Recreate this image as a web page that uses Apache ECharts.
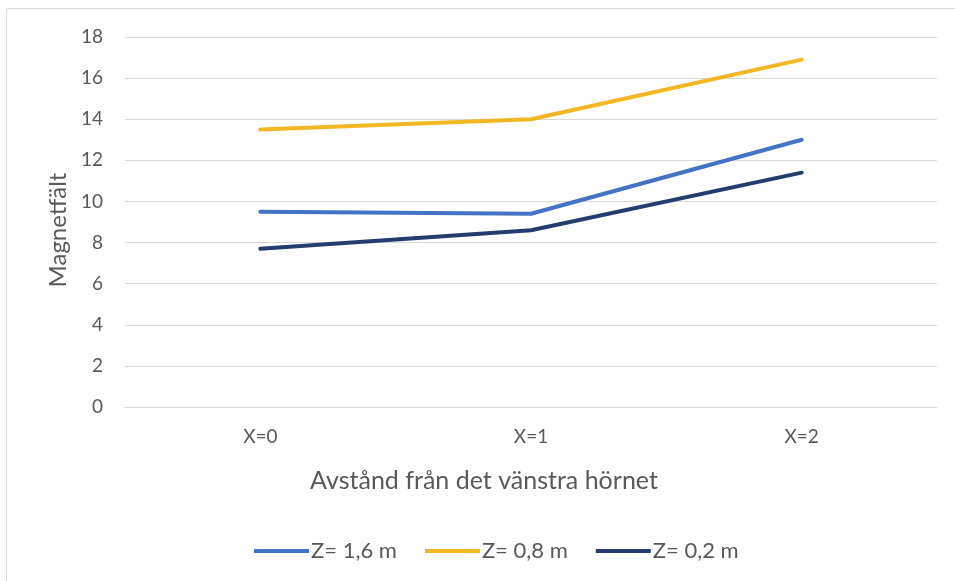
<!DOCTYPE html>
<html>
<head>
<meta charset="utf-8">
<script src="https://cdn.jsdelivr.net/npm/echarts@6/dist/echarts.min.js"></script>
<style>
  html, body { margin: 0; padding: 0; background: #ffffff; }
  #chart { width: 955px; height: 581px; }
</style>
</head>
<body>
<div id="chart"></div>
<script>
// Distance categories along the x axis
const categories = ['X=0', 'X=1', 'X=2'];

// Magnetic field readings at three heights
const seriesNames = ['Z= 1,6 m', 'Z= 0,8 m', 'Z= 0,2 m'];
const z16 = [9.5, 9.4, 13.0];
const z08 = [13.5, 14.0, 16.9];
const z02 = [7.7, 8.6, 11.4];

const colors = ['#4472C4', '#F2B722', '#233E6E'];
const textColor = '#595959';
const fontFamily = 'Lato, "Liberation Sans", sans-serif';

const chart = echarts.init(document.getElementById('chart'), null, { renderer: 'canvas' });

function lineSeries(name, data, color) {
  return {
    name: name,
    type: 'line',
    data: data,
    symbol: 'none',
    lineStyle: { width: 4, color: color, cap: 'round' },
    itemStyle: { color: color },
    emphasis: { disabled: true }
  };
}

chart.setOption({
  animation: false,
  backgroundColor: '#ffffff',
  textStyle: { fontFamily: fontFamily, color: textColor },
  graphic: [{
    type: 'rect',
    shape: { x: 6.5, y: 8.5, width: 1000, height: 1000 },
    style: { fill: 'none', stroke: '#d9d9d9', lineWidth: 1 },
    silent: true
  }],
  grid: { left: 125, right: 18, top: 37, bottom: 174, containLabel: false },
  legend: {
    data: seriesNames,
    left: 249,
    top: 535,
    itemWidth: 55,
    itemHeight: 4,
    itemGap: 28,
    icon: 'rect',
    textStyle: { fontSize: 22, color: textColor, fontFamily: fontFamily, padding: [0, 0, 0, -3] }
  },
  xAxis: {
    type: 'category',
    data: categories,
    boundaryGap: true,
    axisLine: { show: true, lineStyle: { color: '#d9d9d9', width: 1 } },
    axisTick: { show: false },
    axisLabel: { color: textColor, fontSize: 19, margin: 20, fontFamily: fontFamily },
    name: 'Avstånd från det vänstra hörnet',
    nameLocation: 'middle',
    nameGap: 61,
    nameTextStyle: { fontSize: 25, color: textColor, fontFamily: fontFamily, padding: [0, 94, 0, 0] }
  },
  yAxis: {
    type: 'value',
    min: 0,
    max: 18,
    interval: 2,
    axisLine: { show: false },
    axisTick: { show: false },
    splitLine: { lineStyle: { color: '#d9d9d9', width: 1 } },
    axisLabel: { color: textColor, fontSize: 19, margin: 22, fontFamily: fontFamily },
    name: 'Magnetfält',
    nameLocation: 'middle',
    nameGap: 52,
    nameRotate: 90,
    nameTextStyle: { fontSize: 24, color: textColor, fontFamily: fontFamily, padding: [0, 16, 0, 0] }
  },
  series: [
    lineSeries(seriesNames[0], z16, colors[0]),
    lineSeries(seriesNames[1], z08, colors[1]),
    lineSeries(seriesNames[2], z02, colors[2])
  ]
});
</script>
</body>
</html>
